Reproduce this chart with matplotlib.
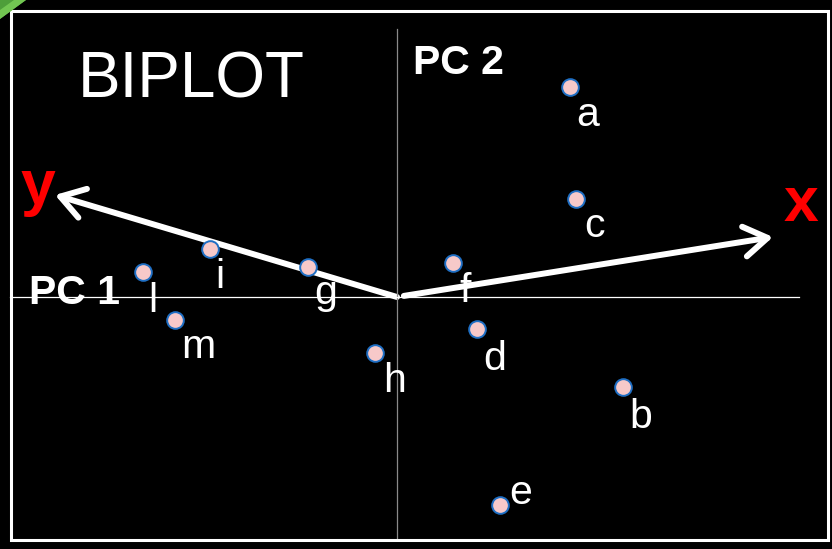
import matplotlib
matplotlib.use("Agg")
import matplotlib.pyplot as plt
from matplotlib.patches import FancyArrowPatch, Rectangle, Polygon

# PC scores of the observations (PC1, PC2)
names = ["a", "b", "c", "d", "e", "f", "g", "h", "i", "l", "m"]
pc1 = [1.73, 2.26, 1.79, 0.80, 1.03, 0.56, -0.89, -0.22, -1.87, -2.54, -2.22]
pc2 = [2.10, -0.90, 0.98, -0.32, -2.08, 0.34, 0.30, -0.56, 0.48, 0.25, -0.23]

# loadings of the variables
var_names = ["x", "y"]
load1 = [3.76, -3.42]
load2 = [0.60, 1.02]

W, H = 832, 549
fig = plt.figure(figsize=(W / 100, H / 100), dpi=100, facecolor="black")
ax = fig.add_axes([0, 0, 1, 1])
ax.set_facecolor("black")
ax.set_xlim(-3.97, 4.35)
ax.set_ylim(-2.52, 2.97)
ax.axis("off")

def px(x, y):
    return x / W, 1 - y / H

# frame + green corner
fig.patches.append(Rectangle(px(10.5, 539.5), 817 / W, 529 / H, transform=fig.transFigure,
                             fill=False, ec="white", lw=2.2))
fig.patches.append(Polygon([px(0, 0), px(26, 0), px(0, 19)], closed=True,
                           transform=fig.transFigure, fc="#4e9e3a", ec="none"))
fig.patches.append(Polygon([px(14, 0), px(26, 0), px(0, 19), px(0, 10)], closed=True,
                           transform=fig.transFigure, fc="#72c652", ec="none"))

# PC axes
ax.axvline(0, ymin=1 - 538 / H, ymax=1 - 29 / H, color="#8a8a8a", lw=0.9)
ax.axhline(0, xmin=10 / W, xmax=799 / W, color="white", lw=0.9)

# loading arrows
for v, lx, ly, shrink in zip(var_names, load1, load2, [5, 0]):
    arr = FancyArrowPatch((0, 0), (lx, ly), arrowstyle="->,head_length=0.7,head_width=0.45",
                          mutation_scale=24, lw=4.3, color="white", shrinkA=shrink, shrinkB=0,
                          capstyle="round", joinstyle="round")
    ax.add_patch(arr)

var_off = {"x": (28, 16), "y": (-17, -9)}
for v, lx, ly in zip(var_names, load1, load2):
    ax.annotate(v, (lx, ly), xytext=var_off[v], textcoords="offset pixels",
                ha="center", va="baseline", color="red", fontsize=45,
                fontweight="bold", family="Liberation Sans")

# observations
ax.plot(pc1, pc2, "o", ms=12, mfc="#f7c9c9", mec="#1f6fc4", mew=1.4, zorder=5)

lab_off = {"a": (18, -39), "b": (18, -41), "c": (18, -38), "d": (18, -41), "e": (21, 1),
           "f": (12, -39), "g": (18, -37), "h": (19, -39), "i": (10, -39), "l": (10, -40),
           "m": (23, -38)}
for n, x, y in zip(names, pc1, pc2):
    ax.annotate(n, (x, y), xytext=lab_off[n], textcoords="offset pixels",
                ha="center", va="baseline", color="white", fontsize=29.5,
                family="Liberation Sans")

ax.text(*px(78, 97), "BIPLOT", transform=ax.transAxes, color="white", fontsize=46,
        family="Liberation Sans", ha="left", va="baseline")
ax.text(*px(413, 74), "PC 2", transform=ax.transAxes, color="white", fontsize=29.5,
        fontweight="bold", family="Liberation Sans", ha="left", va="baseline")
ax.text(*px(29, 304), "PC 1", transform=ax.transAxes, color="white", fontsize=29.5,
        fontweight="bold", family="Liberation Sans", ha="left", va="baseline")

fig.savefig("out.png", dpi=100, facecolor="black")
